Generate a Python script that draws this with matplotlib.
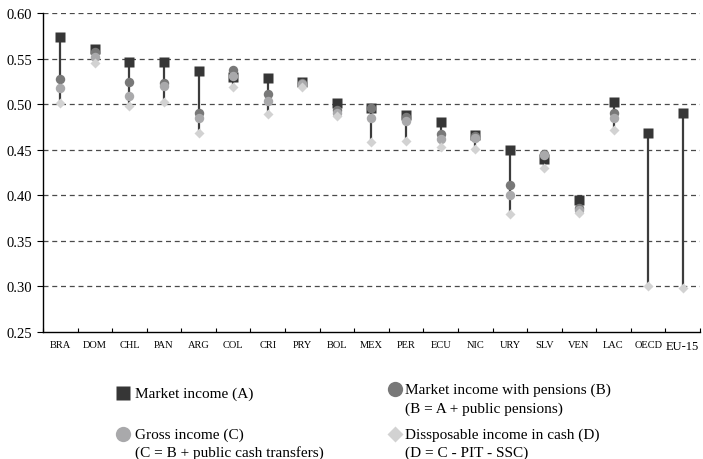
import numpy as np
import matplotlib
matplotlib.use('Agg')
import matplotlib.pyplot as plt

plt.rcParams['font.family'] = ['Liberation Serif', 'DejaVu Serif']

# Gini por concepto de ingreso
countries = ['BRA', 'DOM', 'CHL', 'PAN', 'ARG', 'COL', 'CRI', 'PRY', 'BOL', 'MEX',
             'PER', 'ECU', 'NIC', 'URY', 'SLV', 'VEN', 'LAC', 'OECD', 'EU-15']
market_a = [0.574, 0.561, 0.546, 0.546, 0.537, 0.530, 0.529, 0.525, 0.502, 0.496,
            0.488, 0.481, 0.466, 0.450, 0.440, 0.395, 0.503, 0.468, 0.490]
pensions_b = [0.528, 0.558, 0.525, 0.524, 0.490, 0.538, 0.511, 0.523, 0.494, 0.496,
              0.486, 0.467, 0.465, 0.411, 0.445, 0.386, 0.491, np.nan, np.nan]
gross_c = [0.518, 0.552, 0.509, 0.520, 0.485, 0.531, 0.504, 0.522, 0.491, 0.485,
           0.482, 0.462, 0.463, 0.400, 0.444, 0.384, 0.485, np.nan, np.nan]
dispos_d = [0.502, 0.545, 0.498, 0.503, 0.468, 0.519, 0.489, 0.519, 0.487, 0.459,
            0.460, 0.453, 0.451, 0.380, 0.430, 0.381, 0.472, 0.301, 0.298]
y_ticks = [0.25, 0.30, 0.35, 0.40, 0.45, 0.50, 0.55, 0.60]

c_a, c_b, c_c, c_d = '#363636', '#787878', '#a9a9ab', '#d2d2d2'

fig = plt.figure(figsize=(7.03, 4.6), dpi=100)
ax = fig.add_axes([43 / 703, 1 - 333 / 460, 657 / 703, (333 - 14.3) / 460])

x = np.arange(len(countries))
allv = np.array([market_a, pensions_b, gross_c, dispos_d], dtype=float)
lo = np.nanmin(allv, axis=0)
hi = np.nanmax(allv, axis=0)

for yv in y_ticks[1:]:
    ax.axhline(yv, color='#4a4a4a', lw=0.9, ls=(0, (4, 3)), zorder=1)

ax.vlines(x, lo, hi, color='#3c3c3c', lw=1.6, zorder=2)
ax.plot(x, market_a, 's', color=c_a, ms=6.5, mec='none', zorder=3)
ax.plot(x, pensions_b, 'o', color=c_b, ms=6.8, mec='none', zorder=4)
ax.plot(x, gross_c, 'o', color=c_c, ms=6.8, mec='none', zorder=5)
ax.plot(x, dispos_d, 'D', color=c_d, ms=5, mec='none', zorder=6)

ax.set_xlim(-0.5, len(countries) - 0.5)
ax.set_ylim(0.25, 0.60)
ax.set_yticks(y_ticks)
ax.set_yticklabels(['%.2f' % v for v in y_ticks], fontsize=10.5)
ax.tick_params(axis='y', direction='out', length=4, width=0.8, pad=4)

ax.set_xticks(np.arange(len(countries) + 1) - 0.5)
ax.set_xticklabels([])
ax.tick_params(axis='x', which='major', direction='in', length=3, width=0.8)
ax.set_xticks(x, minor=True)
ax.set_xticklabels(countries, minor=True, fontsize=7.5)
ax.tick_params(axis='x', which='minor', length=0, pad=6)
for lab in ax.get_xticklabels(minor=True):
    if lab.get_text() == 'EU-15':
        lab.set_fontsize(9)

for s in ['top', 'right']:
    ax.spines[s].set_visible(False)
ax.spines['left'].set_linewidth(1.0)
ax.spines['bottom'].set_linewidth(1.0)

# leyenda manual (coordenadas en pixeles)
lax = fig.add_axes([0, 0, 1, 1])
lax.set_xlim(0, 703)
lax.set_ylim(460, 0)
lax.axis('off')
lax.patch.set_visible(False)
fs = 11
lax.plot(123, 393.5, 's', color=c_a, ms=10, mec='none')
lax.text(135, 394, 'Market income (A)', va='center', fontsize=fs)
lax.plot(395, 390, 'o', color=c_b, ms=11, mec='none')
lax.text(405, 390, 'Market income with pensions (B)', va='center', fontsize=fs)
lax.text(405, 409, '(B = A + public pensions)', va='center', fontsize=fs)
lax.plot(123, 435, 'o', color=c_c, ms=11, mec='none')
lax.text(135, 435, 'Gross income (C)', va='center', fontsize=fs)
lax.text(135, 453, '(C = B + public cash transfers)', va='center', fontsize=fs)
lax.plot(395, 435, 'D', color=c_d, ms=8, mec='none')
lax.text(405, 435, 'Dissposable income in cash (D)', va='center', fontsize=fs)
lax.text(405, 453, '(D = C - PIT - SSC)', va='center', fontsize=fs)

fig.savefig('out.png', dpi=100)
